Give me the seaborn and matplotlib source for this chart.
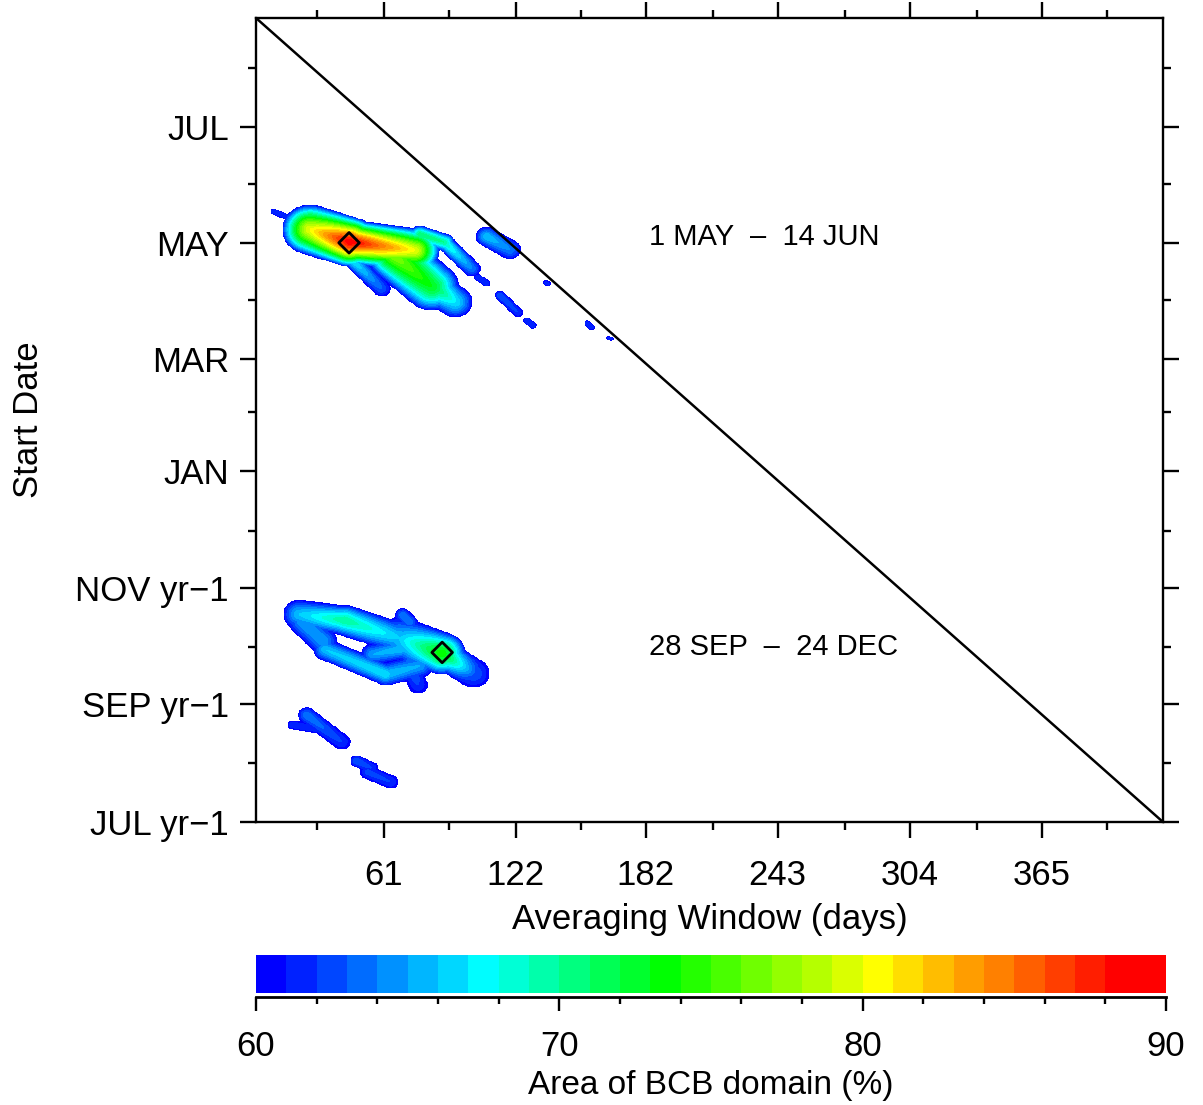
import numpy as np
import matplotlib
matplotlib.use("Agg")
import matplotlib.pyplot as plt
import seaborn as sns
from matplotlib.colors import LinearSegmentedColormap, ListedColormap, BoundaryNorm

# ---------------- data ----------------
window_lim = [2, 421]          # averaging window (days)
start_lim = [0, 422]           # start date, days after 1 JUL yr-1

x_major_ticks = [61, 122, 182, 243, 304, 365]
x_minor_ticks = [30, 91, 152, 213, 274, 335, 395]
y_major_ticks = [0, 62, 123, 184, 243, 304, 365]
y_major_labels = ["JUL yr\u22121", "SEP yr\u22121", "NOV yr\u22121", "JAN", "MAR", "MAY", "JUL"]
y_minor_ticks = [31, 92, 153, 215, 274, 335, 396]

levels = list(range(60, 91))
cbar_major = [60, 70, 80, 90]
cbar_minor = list(range(62, 90, 2))

# optimum windows (diamonds) and their labels
opt_window = [45, 88]
opt_start = [304, 89]
opt_text = ["1 MAY  \u2013  14 JUN", "28 SEP  \u2013  24 DEC"]
text_window = [237, 241]
text_start = [307, 92]

# features of the area field (>60 %): ridge segments
# start point (window, start), end point, half width (days), value at start / end
feat_w0 = [27.0, 45.3, 66.1, 83.2, 47.6, 77.7, 89.2, 10.2, 108.6, 104.5, 114.7, 127.1, 136.0, 154.9, 165.0,
           22.0, 43.0, 68.4, 87.9, 34.0, 62.0, 23.5, 73.1, 69.8, 56.0,
           19.0, 25.4, 48.5, 53.7]
feat_s0 = [311.0, 304.5, 297.0, 281.6, 293.7, 308.4, 304.2, 320.4, 307.3, 285.9, 276.4, 263.3, 283.0, 261.7, 254.0,
           109.0, 105.9, 96.5, 88.5, 90.5, 77.5, 105.0, 83.9, 108.6, 88.0,
           50.9, 56.1, 32.0, 26.2]
feat_w1 = [45.3, 75.4, 83.2, 94.0, 60.1, 89.2, 101.7, 18.5, 119.3, 108.6, 123.0, 129.9, 137.0, 157.2, 166.0,
           43.0, 68.4, 87.9, 102.5, 62.0, 77.7, 33.0, 76.8, 73.1, 70.0,
           30.6, 41.6, 55.5, 64.2]
feat_s1 = [304.5, 300.0, 281.0, 273.0, 280.0, 304.2, 290.5, 316.6, 300.5, 282.7, 267.5, 260.6, 282.4, 259.6, 253.6,
           105.9, 96.5, 88.5, 78.0, 77.5, 82.0, 95.0, 72.0, 104.9, 91.0,
           48.8, 42.0, 28.3, 21.0]
feat_hw = [13, 11.5, 12.5, 8, 4, 4.5, 4, 1.5, 5, 1.7, 2.3, 1.7, 1.3, 1.4, 1.1,
           7.5, 8, 11, 7.5, 5.5, 6, 6.5, 4.5, 3.5, 5.5,
           2.3, 4, 3, 3.5]
feat_p0 = [80, 89, 77, 73, 67, 71, 69, 62, 66, 62, 63, 62, 61.5, 62, 61.5,
           66, 70, 66, 74, 66, 66, 65, 64, 64, 65,
           62, 64, 63, 62.5]
feat_p1 = [89, 80, 73, 67, 63, 70, 64, 62, 64, 62, 62, 62, 61.5, 62, 61.5,
           70, 66, 74, 63, 67, 65, 65, 62, 64, 66,
           62, 62, 62, 62]

# colour table anchors (IDL-like rainbow)
cmap_pos = [0.0, 7 / 29, 13 / 29, 20 / 29, 28 / 29, 1.0]
cmap_col = ["#0000ff", "#00ffff", "#00ff00", "#ffff00", "#ff0000", "#ff0000"]

# ---------------- field ----------------
W = np.arange(window_lim[0], window_lim[1] + 0.01, 0.5)
S = np.arange(start_lim[0], start_lim[1] + 0.01, 0.5)
WW, SS = np.meshgrid(W, S)
Z = np.full(WW.shape, np.nan)
for w0, s0, w1, s1, hw, p0, p1 in zip(feat_w0, feat_s0, feat_w1, feat_s1, feat_hw, feat_p0, feat_p1):
    dw, ds = w1 - w0, s1 - s0
    L2 = dw * dw + ds * ds
    t = np.clip(((WW - w0) * dw + (SS - s0) * ds) / L2, 0, 1) if L2 > 0 else np.zeros_like(WW)
    d = np.hypot(WW - (w0 + t * dw), SS - (s0 + t * ds)) / hw
    val = 60 + (p0 + (p1 - p0) * t - 60) * (1 - d ** 1.5)
    Z = np.fmax(Z, np.where(d < 1, val, np.nan))

base = LinearSegmentedColormap.from_list("idl", list(zip(cmap_pos, cmap_col)))
cmap = ListedColormap(base(np.linspace(0, 1, len(levels) - 1)))
norm = BoundaryNorm(levels, cmap.N)

# ---------------- figure ----------------
sns.set_theme(style="ticks")
plt.rcParams["font.family"] = ["Liberation Sans", "DejaVu Sans"]
plt.rcParams["axes.linewidth"] = 1.7
plt.rcParams["axes.edgecolor"] = "black"
plt.rcParams["axes.labelcolor"] = "black"
plt.rcParams["text.color"] = "black"
plt.rcParams["xtick.color"] = "black"
plt.rcParams["ytick.color"] = "black"

fig = plt.figure(figsize=(12.03, 11.05), dpi=100)
ax = fig.add_axes([256 / 1203, 1 - 822 / 1105, 907 / 1203, 804 / 1105])

ax.contourf(WW, SS, Z, levels=levels, cmap=cmap, norm=norm)

# diagonal: end of averaging window reaches end of record
sns.lineplot(x=[window_lim[0], window_lim[1]], y=[start_lim[1], start_lim[0]],
             color="black", linewidth=1.8, ax=ax, legend=False)

sns.scatterplot(x=opt_window, y=opt_start, marker="D", s=110, linewidth=2.0,
                edgecolor="black", ax=ax, legend=False, zorder=5)
ax.collections[-1].set_facecolor("none")

for tx, ty, txt in zip(text_window, text_start, opt_text):
    ax.text(tx, ty, txt, ha="center", va="center", fontsize=21, color="black")

ax.set_xlim(window_lim)
ax.set_ylim(start_lim)
ax.set_xticks(x_major_ticks)
ax.set_xticks(x_minor_ticks, minor=True)
ax.set_yticks(y_major_ticks)
ax.set_yticklabels(y_major_labels)
ax.set_yticks(y_minor_ticks, minor=True)
ax.tick_params(which="major", direction="out", length=11.5, width=1.7, top=True, right=True,
               labeltop=False, labelright=False, labelsize=25, colors="black")
ax.tick_params(which="minor", direction="out", length=6, width=1.7, top=True, right=True, colors="black")
ax.tick_params(axis="x", which="major", pad=15)
ax.tick_params(axis="y", which="major", pad=8)
ax.set_xlabel("Averaging Window (days)", fontsize=25, labelpad=8, color="black")
ax.set_ylabel("Start Date", fontsize=25, color="black")
ax.yaxis.set_label_coords(-0.233, 0.5)
for sp in ax.spines.values():
    sp.set_visible(True)
    sp.set_linewidth(1.7)
    sp.set_color("black")

# colour bar
cax = fig.add_axes([256 / 1203, 1 - 997 / 1105, 910 / 1203, 42 / 1105])
mids = [(a + b) / 2 for a, b in zip(levels[:-1], levels[1:])]
cax.pcolormesh(levels, [0, 1], [mids], cmap=cmap, norm=norm)
cax.set_xlim(levels[0], levels[-1])
cax.set_ylim(-0.1, 1)
for side in ["top", "left", "right"]:
    cax.spines[side].set_visible(False)
cax.spines["bottom"].set_linewidth(2.0)
cax.spines["bottom"].set_color("black")
cax.set_yticks([])
cax.set_xticks(cbar_major)
cax.set_xticks(cbar_minor, minor=True)
cax.tick_params(which="major", direction="out", length=10, width=1.7, labelsize=25, pad=14, colors="black")
cax.tick_params(which="minor", direction="out", length=5, width=1.7, colors="black")
cax.set_xlabel("Area of BCB domain (%)", fontsize=24, labelpad=5, color="black")

fig.savefig("out.png", dpi=100, facecolor="white")
